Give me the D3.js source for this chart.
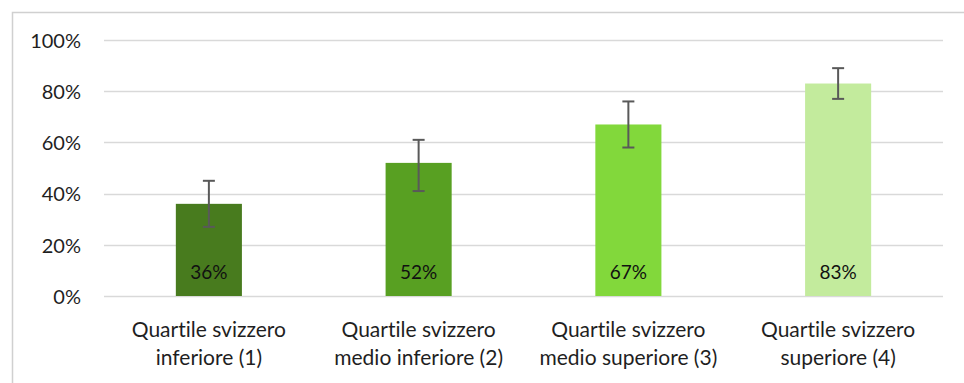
<!DOCTYPE html>
<html><head><meta charset="utf-8">
<script src="https://cdn.jsdelivr.net/npm/d3@7"></script>
<style>body{margin:0;background:#fff}svg{display:block}text{font-family:Lato,"Open Sans",sans-serif;font-variant-ligatures:none;font-feature-settings:"liga" 0,"dlig" 0}</style>
</head><body><svg id="c" width="964" height="383"></svg>
<script>
const categories = [["Quartile svizzero","inferiore (1)"],["Quartile svizzero","medio inferiore (2)"],["Quartile svizzero","medio superiore (3)"],["Quartile svizzero","superiore (4)"]];
const values = [0.36, 0.52, 0.67, 0.83];
const errLow = [0.27, 0.41, 0.58, 0.77];
const errHigh = [0.45, 0.61, 0.76, 0.89];
const colors = ["#487b1e", "#58a022", "#82d83b", "#c3eb9d"];
const yTicks = [0, 0.2, 0.4, 0.6, 0.8, 1.0];

const svg = d3.select("#c");
// frame
svg.append("path").attr("d","M12.5,383 V12.5 H964").attr("fill","none").attr("stroke","#d0d0d0").attr("stroke-width",1.5);

const x = d3.scaleBand().domain(d3.range(categories.length)).range([104, 943]).paddingInner(0.685).paddingOuter(0.3425);
const y = d3.scaleLinear().domain([0,1]).range([296,40]);

// gridlines
svg.append("g").selectAll("line").data(yTicks).join("line")
  .attr("x1",104).attr("x2",943).attr("y1",d=>Math.round(y(d))+0.5).attr("y2",d=>Math.round(y(d))+0.5)
  .attr("stroke","#d9d9d9").attr("stroke-width",1.5);

const yAxis = d3.axisLeft(y).tickValues(yTicks).tickFormat(d3.format(".0%")).tickSize(0).tickPadding(0);
const ga = svg.append("g").attr("transform","translate(81,0)").call(yAxis);
ga.select(".domain").remove();
ga.selectAll("text").attr("font-size",20).attr("fill","#1f1f1f").attr("dy","0.36em").style("font-family","Lato,sans-serif");

// bars
svg.append("g").selectAll("rect").data(values).join("rect")
  .attr("x",(d,i)=>x(i)).attr("width",x.bandwidth())
  .attr("y",d=>y(d)).attr("height",d=>y(0)-y(d)).attr("fill",(d,i)=>colors[i]);

// error bars
const eg = svg.append("g").attr("stroke","#595959").attr("stroke-width",2);
values.forEach((v,i)=>{
  const cx = x(i)+x.bandwidth()/2;
  eg.append("line").attr("x1",cx).attr("x2",cx).attr("y1",y(errHigh[i])).attr("y2",y(errLow[i]));
  eg.append("line").attr("x1",cx-6).attr("x2",cx+6).attr("y1",y(errHigh[i])).attr("y2",y(errHigh[i]));
  eg.append("line").attr("x1",cx-6).attr("x2",cx+6).attr("y1",y(errLow[i])).attr("y2",y(errLow[i]));
});

// data labels
svg.append("g").selectAll("text").data(values).join("text")
  .attr("x",(d,i)=>x(i)+x.bandwidth()/2).attr("y",279)
  .attr("text-anchor","middle").attr("font-size",19).attr("fill","#111")
  .text(d=>d3.format(".0%")(d));

// category labels
const xl = svg.append("g");
categories.forEach((lines,i)=>{
  const t = xl.append("text").attr("x",x(i)+x.bandwidth()/2).attr("y",337)
    .attr("text-anchor","middle").attr("font-size",21).attr("fill","#1f1f1f");
  lines.forEach((l,j)=>t.append("tspan").attr("x",x(i)+x.bandwidth()/2).attr("dy",j?28:0).text(l));
});
</script></body></html>
